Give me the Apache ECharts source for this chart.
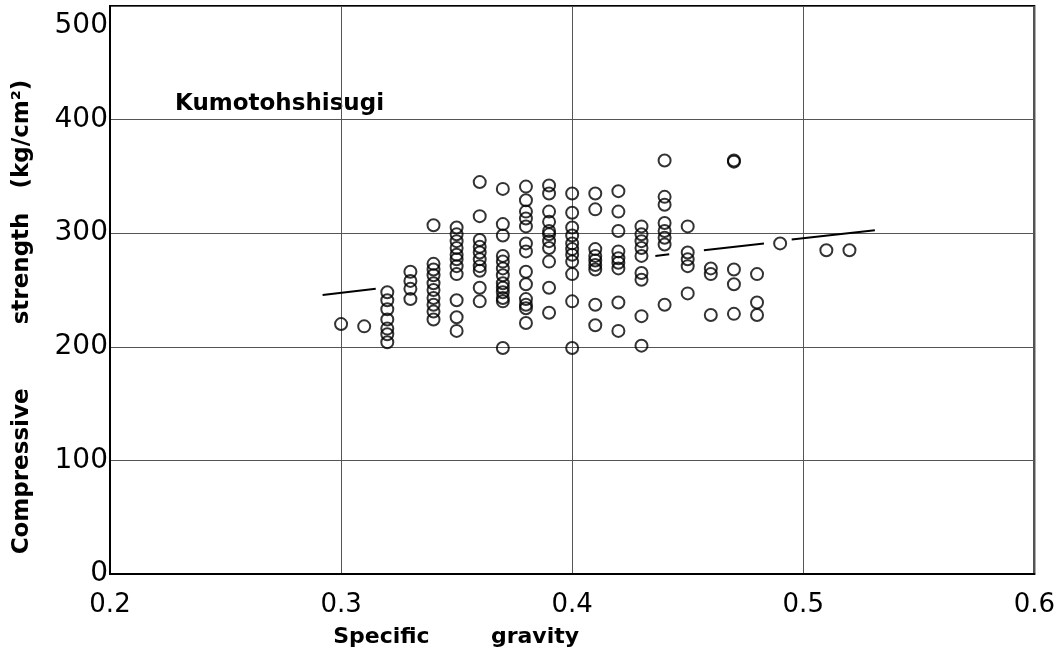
<!DOCTYPE html>
<html>
<head>
<meta charset="utf-8">
<script src="https://cdn.jsdelivr.net/npm/echarts@6/dist/echarts.min.js"></script>
<style>
  html, body { margin: 0; padding: 0; background: #fff; }
  #chart { width: 1058px; height: 662px; }
</style>
</head>
<body>
<div id="chart"></div>
<script>
// specific gravity of each column of points
const gravity = [0.30, 0.31, 0.32, 0.33, 0.34, 0.35, 0.36, 0.37, 0.38, 0.39, 0.40,
  0.41, 0.42, 0.43, 0.44, 0.45, 0.46, 0.47, 0.48, 0.49, 0.51, 0.52];

// compressive strength (kg/cm2) read for each column
const strength = [
  [220],
  [218],
  [248, 241, 233, 224, 216, 211, 204],
  [266, 258, 251, 242],
  [307, 273, 268, 263, 256, 250, 243, 237, 231, 224],
  [305, 299, 293, 287, 281, 277, 271, 264, 241, 226, 214],
  [345, 315, 294, 288, 283, 277, 271, 267, 252, 240],
  [339, 308, 298, 280, 275, 269, 263, 256, 252, 248, 243, 240, 199],
  [341, 329, 319, 313, 306, 291, 284, 266, 255, 242, 237, 234, 221],
  [342, 335, 319, 310, 302, 299, 293, 287, 275, 252, 230],
  [335, 318, 305, 298, 291, 286, 281, 275, 264, 240, 199],
  [335, 321, 286, 280, 276, 272, 268, 237, 219],
  [337, 319, 302, 284, 278, 274, 269, 239, 214],
  [306, 299, 293, 287, 280, 265, 259, 227, 201],
  [364, 332, 325, 309, 302, 296, 290, 237],
  [306, 283, 277, 271, 247],
  [269, 264, 228],
  [363, 364, 268, 255, 229],
  [264, 239, 228],
  [291],
  [285],
  [285]
];

// regression line, drawn in pieces with gaps as in the figure
const fitLine = [
  [0.292, 245.6], [0.315, 251.2], [0.38, '-'],
  [0.436, 280], [0.442, 281.5], [0.45, '-'],
  [0.457, 285], [0.483, 291], [0.49, '-'],
  [0.495, 294.5], [0.531, 302.5]
];

const xTicks = [0.2, 0.3, 0.4, 0.5, 0.6];
const yTicks = [0, 100, 200, 300, 400, 500];

const points = [];
gravity.forEach((g, i) => {
  strength[i].forEach((s) => points.push([g, s]));
});

const chart = echarts.init(document.getElementById("chart"));
const font = "'DejaVu Sans', sans-serif";

const option = {
  backgroundColor: "#fff",
  animation: false,
  grid: {
    left: 110,
    right: 21,
    top: 6,
    bottom: 88,
    show: true,
    borderColor: "#000",
    borderWidth: 2,
  },
  graphic: [
    {
      type: "text",
      left: 175,
      top: 93,
      style: {
        text: "Kumotohshisugi",
        font: "bold 23px " + font,
        fill: "#000",
      },
    },
  ],
  xAxis: {
    type: "value",
    min: xTicks[0],
    max: xTicks[xTicks.length - 1],
    interval: 0.1,
    name: "Specific        gravity",
    nameLocation: "middle",
    nameGap: 52,
    nameTextStyle: {
      fontFamily: font,
      fontSize: 22,
      fontWeight: "bold",
      color: "#000",
      padding: [0, 232, 0, 0],
    },
    axisLine: { lineStyle: { color: "#000", width: 2 } },
    axisTick: { show: false },
    axisLabel: {
      margin: 18,
      fontFamily: font,
      fontSize: 26,
      color: "#000",
      formatter: (v) => v.toFixed(1),
    },
    splitLine: { lineStyle: { color: "#555", width: 1 } },
  },
  yAxis: {
    type: "value",
    min: yTicks[0],
    max: yTicks[yTicks.length - 1],
    interval: 100,
    name: "Compressive        strength   (kg/cm²)",
    nameLocation: "middle",
    nameGap: 76,
    nameTextStyle: {
      fontFamily: font,
      fontSize: 23,
      fontWeight: "bold",
      color: "#000",
      padding: [0, 54, 0, 0],
    },
    axisLine: { lineStyle: { color: "#000", width: 2 } },
    axisTick: { show: false },
    axisLabel: {
      margin: 2,
      fontFamily: font,
      fontSize: 28,
      color: "#000",
      formatter: (v) => (v === 500 ? "{top|500}" : String(v)),
      rich: {
        top: {
          fontFamily: font,
          fontSize: 28,
          color: "#000",
          padding: [40, 0, 0, 0],
        },
      },
    },
    splitLine: { lineStyle: { color: "#555", width: 1 } },
  },
  series: [
    {
      name: "fit",
      type: "line",
      data: fitLine,
      showSymbol: false,
      connectNulls: false,
      lineStyle: { color: "#000", width: 2 },
      z: 3,
    },
    {
      name: "samples",
      type: "scatter",
      data: points,
      symbol: "circle",
      symbolSize: 12,
      itemStyle: {
        color: "rgba(0,0,0,0)",
        borderColor: "#000",
        borderWidth: 2,
      },
      z: 4,
    },
  ],
};

chart.setOption(option);
</script>
</body>
</html>
